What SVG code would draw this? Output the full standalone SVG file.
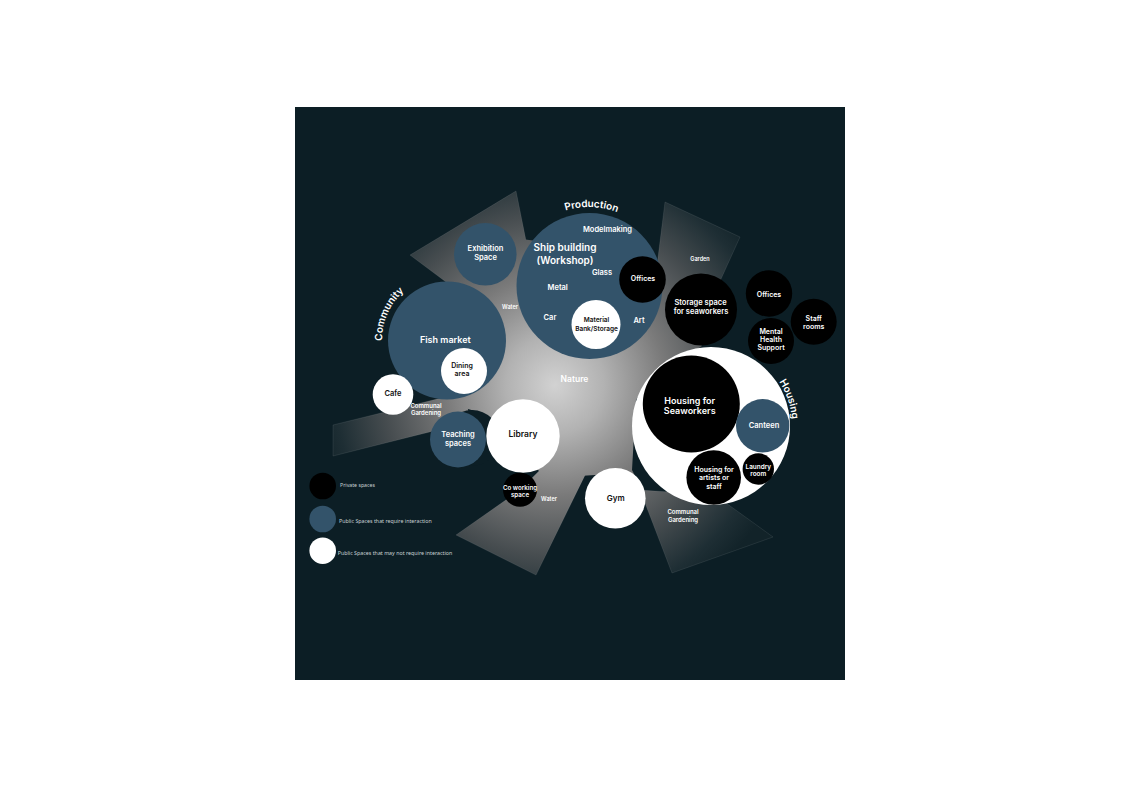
<svg xmlns="http://www.w3.org/2000/svg" width="1140" height="806" viewBox="0 0 1140 806">
<defs>
<radialGradient id="glow" gradientUnits="userSpaceOnUse" cx="555" cy="385" r="245">
<stop offset="0" stop-color="#d2d2d2"/>
<stop offset="0.2" stop-color="#b2b2b2"/>
<stop offset="0.45" stop-color="#7a7a7a"/>
<stop offset="0.7" stop-color="#474d50"/>
<stop offset="0.9" stop-color="#1e2e34"/>
<stop offset="1" stop-color="#122329"/>
</radialGradient>
<path id="arcProd" d="M 510 286 A 79 79 0 0 1 668 286"/>
<path id="arcComm" d="M 420.6 399.4 A 65 65 0 0 1 473.4 280.6"/>
<path id="arcHous" d="M 681.6 348.4 A 83 83 0 0 1 740.4 503.6"/>
</defs>
<style>
.ray{fill:url(#glow);stroke:#ffffff;stroke-opacity:0.14;stroke-width:0.6}
.blob{fill:url(#glow)}
.blue{fill:#33536a}
.blk{fill:#000000}
.wht{fill:#ffffff}
.t{font-family:Inter,"Liberation Sans",sans-serif;font-weight:600;text-anchor:middle}
.w{fill:#ffffff}
.d{fill:#111111}
.arc{font-family:Inter,"Liberation Sans",sans-serif;font-weight:600;font-size:10px;fill:#ffffff}
.leg{font-family:"Noto Sans","Liberation Sans",sans-serif;font-size:5.5px;fill:#c9d1d4}
</style>
<rect x="0" y="0" width="1140" height="806" fill="#ffffff"/>
<rect x="295" y="107" width="550" height="573" fill="#0c1e25"/>

<g id="connectors">
<polygon class="ray" points="410,255 516,191 536,290 470,300"/>
<polygon class="ray" points="665,202 740,237 707,310 652,305"/>
<polygon class="ray" points="333,425 333,456 470,422 465,392"/>
<polygon class="ray" points="456,535 536,575 595,455 540,470 520,490"/>
<polygon class="ray" points="672,573 773,537 715,495 640,490"/>
<polygon class="blob" points="445,400 450,330 478,298 515,238 600,250 655,260 668,300 702,346 645,385 636,400 632,470 650,505 595,475 548,478 500,440 478,412 455,405"/>
<circle cx="472" cy="438" r="28" fill="#0c1e25"/>
</g>

<g id="ship-building">
<circle class="blue" cx="589.5" cy="286" r="73"/>
<text class="arc"><textPath href="#arcProd" startOffset="51%" text-anchor="middle">Production</textPath></text>
<text class="t w" x="607.5" y="232.2" font-size="7.5">Modelmaking</text>
<text class="t w" x="565" y="251.2" font-size="10">Ship building</text>
<text class="t w" x="565" y="263.5" font-size="10">(Workshop)</text>
<text class="t w" x="602" y="275.3" font-size="7.5">Glass</text>
<text class="t w" x="557.7" y="289.6" font-size="7.5">Metal</text>
<text class="t w" x="550" y="320.3" font-size="7.5">Car</text>
<text class="t w" x="639" y="323.3" font-size="7.5">Art</text>
</g>
<g id="offices-production">
<circle class="blk" cx="642.5" cy="279.5" r="23.3"/>
<text class="t w" x="643" y="280.5" font-size="7">Offices</text>
</g>
<g id="material-bank">
<circle class="wht" cx="596" cy="324.5" r="24.5"/>
<text class="t d" x="596.5" y="322.3" font-size="6.5">Material</text>
<text class="t d" x="596.5" y="330.6" font-size="6.5">Bank/Storage</text>
</g>
<g id="exhibition">
<circle class="blue" cx="485.3" cy="254.3" r="31.3"/>
<text class="t w" x="485.5" y="251" font-size="7.5">Exhibition</text>
<text class="t w" x="485.5" y="260.3" font-size="7.5">Space</text>
</g>
<g id="fish-market">
<circle class="blue" cx="447" cy="340.5" r="59"/>
<text class="arc"><textPath href="#arcComm" startOffset="50%" text-anchor="middle">Community</textPath></text>
<text class="t w" x="445.3" y="342.9" font-size="9">Fish market</text>
</g>
<g id="dining">
<circle class="wht" cx="464" cy="371" r="23"/>
<text class="t d" x="462" y="367.8" font-size="7">Dining</text>
<text class="t d" x="462" y="375.8" font-size="7">area</text>
</g>
<g id="cafe">
<circle class="wht" cx="393" cy="394.5" r="20.3"/>
<text class="t d" x="393" y="396" font-size="7.5">Cafe</text>
</g>
<g id="teaching">
<circle class="blue" cx="458" cy="439.5" r="28"/>
<text class="t w" x="458" y="437.3" font-size="7.5">Teaching</text>
<text class="t w" x="458" y="445.9" font-size="7.5">spaces</text>
</g>
<g id="library">
<circle class="wht" cx="523" cy="436" r="36.7"/>
<text class="t d" x="523" y="437" font-size="8.5">Library</text>
</g>
<g id="coworking">
<circle class="blk" cx="520" cy="489.7" r="17"/>
<text class="t w" x="520" y="490.3" font-size="6.2">Co working</text>
<text class="t w" x="520" y="497.3" font-size="6.2">space</text>
</g>
<g id="gym">
<circle class="wht" cx="615.3" cy="498.3" r="30.3"/>
<text class="t d" x="615.7" y="501.1" font-size="8">Gym</text>
</g>
<g id="storage">
<circle class="blk" cx="701" cy="309.5" r="36"/>
<text class="t w" x="700.5" y="304.6" font-size="7.5">Storage space</text>
<text class="t w" x="701" y="314.3" font-size="7.5">for seaworkers</text>
</g>
<g id="offices-right">
<circle class="blk" cx="769" cy="293.5" r="23.2"/>
<text class="t w" x="769" y="296.5" font-size="7">Offices</text>
</g>
<g id="staff-rooms">
<circle class="blk" cx="813.7" cy="321.7" r="23"/>
<text class="t w" x="813.7" y="320.5" font-size="7">Staff</text>
<text class="t w" x="813.7" y="329.2" font-size="7">rooms</text>
</g>
<g id="mental-health">
<circle class="blk" cx="771" cy="341" r="23"/>
<text class="t w" x="771" y="333.5" font-size="7">Mental</text>
<text class="t w" x="771" y="341.8" font-size="7">Health</text>
<text class="t w" x="771" y="349.8" font-size="7">Support</text>
</g>
<g id="housing">
<circle class="wht" cx="711" cy="426" r="79"/>
<text class="arc"><textPath href="#arcHous" startOffset="51%" text-anchor="middle">Housing</textPath></text>
</g>
<g id="housing-seaworkers">
<circle class="blk" cx="691.3" cy="404" r="48.5"/>
<text class="t w" x="689.7" y="404.2" font-size="9">Housing for</text>
<text class="t w" x="689.7" y="414.2" font-size="9">Seaworkers</text>
</g>
<g id="canteen">
<circle class="blue" cx="762.7" cy="425.8" r="26.7"/>
<text class="t w" x="764" y="428" font-size="7.5">Canteen</text>
</g>
<g id="housing-artists">
<circle class="blk" cx="713.7" cy="477.5" r="27.3"/>
<text class="t w" x="714" y="471.8" font-size="7">Housing for</text>
<text class="t w" x="714" y="480.2" font-size="7">artists or</text>
<text class="t w" x="714" y="488.5" font-size="7">staff</text>
</g>
<g id="laundry">
<circle class="blk" cx="758.3" cy="469" r="15.7"/>
<text class="t w" x="758.3" y="468.6" font-size="6.4">Laundry</text>
<text class="t w" x="758.3" y="475.8" font-size="6.4">room</text>
</g>

<g id="labels">
<text class="t w" x="574.5" y="382.3" font-size="8.5">Nature</text>
<text class="t w" x="510" y="309.2" font-size="5.5">Water</text>
<text class="t w" x="549" y="500.9" font-size="5.5">Water</text>
<text class="t w" x="700" y="261.2" font-size="5.5">Garden</text>
<text class="t w" x="426" y="408.1" font-size="6">Communal</text>
<text class="t w" x="426" y="415.4" font-size="6">Gardening</text>
<text class="t w" x="683" y="514.4" font-size="6">Communal</text>
<text class="t w" x="683" y="521.8" font-size="6">Gardening</text>
</g>

<g id="legend">
<circle class="blk" cx="322.7" cy="486" r="13.3"/>
<circle class="blue" cx="322.7" cy="519" r="13.3"/>
<circle class="wht" cx="322.7" cy="550.7" r="13.3"/>
<text class="leg" x="340" y="487" textLength="35" lengthAdjust="spacingAndGlyphs">Private spaces</text>
<text class="leg" x="339" y="523" textLength="92.7" lengthAdjust="spacingAndGlyphs">Public Spaces that require interaction</text>
<text class="leg" x="337.7" y="554.7" textLength="114.6" lengthAdjust="spacingAndGlyphs">Public Spaces that may not require interaction</text>
</g>
</svg>
